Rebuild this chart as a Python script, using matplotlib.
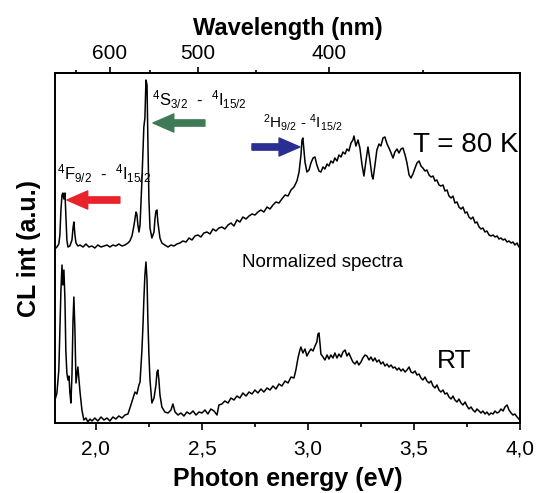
import numpy as np
import matplotlib
matplotlib.use("Agg")
import matplotlib.pyplot as plt
from matplotlib.ticker import FixedLocator, FuncFormatter

plt.rcParams['font.family'] = ['Liberation Sans', 'DejaVu Sans']
plt.rcParams['mathtext.default'] = 'regular'

# --- data (photon energy in eV, intensity in a.u.) ---
e_80k = [1.807, 1.816, 1.825, 1.830, 1.835, 1.840, 1.844, 1.849, 1.854, 1.858,
         1.863, 1.868, 1.877, 1.887, 1.892, 1.896, 1.901, 1.906, 1.915, 1.925,
         1.939, 1.953, 1.967, 1.981, 1.995, 2.009, 2.024, 2.038, 2.052, 2.066,
         2.080, 2.094, 2.108, 2.123, 2.137, 2.151, 2.160, 2.170, 2.179, 2.189,
         2.193, 2.198, 2.203, 2.208, 2.212, 2.217, 2.222, 2.226, 2.231, 2.236,
         2.241, 2.245, 2.250, 2.255, 2.264, 2.274, 2.278, 2.283, 2.288, 2.292,
         2.302, 2.311, 2.325, 2.340, 2.354, 2.368, 2.382, 2.396, 2.410, 2.425,
         2.439, 2.453, 2.467, 2.481, 2.495, 2.509, 2.524, 2.538, 2.552, 2.566,
         2.580, 2.594, 2.608, 2.623, 2.637, 2.651, 2.665, 2.679, 2.693, 2.708,
         2.722, 2.736, 2.750, 2.764, 2.778, 2.792, 2.807, 2.821, 2.835, 2.849,
         2.863, 2.877, 2.892, 2.906, 2.920, 2.934, 2.948, 2.958, 2.967, 2.972,
         2.976, 2.981, 2.986, 2.995, 3.005, 3.014, 3.024, 3.033, 3.042, 3.052,
         3.061, 3.071, 3.080, 3.090, 3.099, 3.108, 3.118, 3.127, 3.137, 3.146,
         3.156, 3.165, 3.175, 3.184, 3.193, 3.203, 3.212, 3.217, 3.226, 3.236,
         3.245, 3.255, 3.264, 3.274, 3.283, 3.292, 3.302, 3.307, 3.316, 3.325,
         3.335, 3.344, 3.354, 3.363, 3.373, 3.382, 3.392, 3.401, 3.410, 3.420,
         3.429, 3.439, 3.448, 3.458, 3.467, 3.477, 3.486, 3.495, 3.505, 3.514,
         3.524, 3.533, 3.542, 3.552, 3.561, 3.571, 3.580, 3.590, 3.599, 3.608,
         3.618, 3.627, 3.637, 3.646, 3.656, 3.665, 3.675, 3.684, 3.693, 3.703,
         3.712, 3.722, 3.731, 3.741, 3.750, 3.759, 3.769, 3.778, 3.788, 3.797,
         3.807, 3.816, 3.825, 3.835, 3.844, 3.854, 3.863, 3.873, 3.882, 3.892,
         3.901, 3.910, 3.920, 3.929, 3.939, 3.948, 3.958, 3.967, 3.976, 3.986,
         3.995, 4.000]
i_80k = [1.74, 1.76, 1.79, 1.88, 2.13, 2.28, 2.30, 2.24, 2.30, 2.08,
         1.83, 1.76, 1.77, 1.83, 1.95, 2.01, 1.88, 1.80, 1.77, 1.78,
         1.76, 1.79, 1.76, 1.77, 1.75, 1.78, 1.76, 1.77, 1.78, 1.76,
         1.78, 1.77, 1.79, 1.77, 1.78, 1.80, 1.82, 1.87, 1.97, 2.11,
         2.09, 1.98, 1.91, 1.98, 2.18, 2.43, 2.73, 2.96, 3.05, 3.43,
         3.38, 2.83, 2.23, 1.95, 1.85, 1.91, 2.03, 2.12, 2.13, 2.01,
         1.85, 1.80, 1.78, 1.76, 1.78, 1.77, 1.79, 1.80, 1.82, 1.81,
         1.85, 1.83, 1.87, 1.88, 1.86, 1.90, 1.91, 1.89, 1.94, 1.92,
         1.95, 1.96, 1.94, 1.98, 2.00, 1.97, 2.03, 2.01, 2.06, 2.04,
         2.07, 2.09, 2.08, 2.11, 2.13, 2.11, 2.16, 2.14, 2.18, 2.21,
         2.20, 2.24, 2.28, 2.27, 2.33, 2.36, 2.42, 2.51, 2.68, 2.83,
         2.85, 2.73, 2.61, 2.51, 2.53, 2.60, 2.65, 2.66, 2.58, 2.52,
         2.51, 2.56, 2.54, 2.59, 2.57, 2.62, 2.60, 2.65, 2.62, 2.68,
         2.66, 2.71, 2.69, 2.74, 2.72, 2.80, 2.83, 2.87, 2.77, 2.83,
         2.75, 2.58, 2.47, 2.63, 2.76, 2.63, 2.47, 2.44, 2.58, 2.73,
         2.79, 2.77, 2.85, 2.86, 2.79, 2.75, 2.70, 2.65, 2.71, 2.74,
         2.70, 2.74, 2.75, 2.68, 2.60, 2.48, 2.45, 2.49, 2.55, 2.60,
         2.62, 2.57, 2.55, 2.52, 2.53, 2.48, 2.46, 2.47, 2.42, 2.43,
         2.38, 2.37, 2.38, 2.32, 2.33, 2.27, 2.25, 2.27, 2.20, 2.21,
         2.16, 2.14, 2.16, 2.10, 2.11, 2.06, 2.04, 2.06, 2.00, 2.01,
         1.96, 1.94, 1.95, 1.91, 1.92, 1.88, 1.87, 1.88, 1.86, 1.87,
         1.84, 1.85, 1.83, 1.84, 1.81, 1.82, 1.80, 1.81, 1.78, 1.80,
         1.76, 1.77]

e_rt = [1.807, 1.816, 1.825, 1.830, 1.835, 1.840, 1.844, 1.849, 1.854, 1.858,
        1.863, 1.868, 1.873, 1.877, 1.882, 1.887, 1.892, 1.896, 1.901, 1.906,
        1.910, 1.915, 1.920, 1.925, 1.934, 1.943, 1.953, 1.962, 1.972, 1.981,
        1.995, 2.009, 2.024, 2.038, 2.052, 2.066, 2.080, 2.094, 2.108, 2.123,
        2.137, 2.151, 2.165, 2.175, 2.184, 2.193, 2.203, 2.208, 2.217, 2.222,
        2.226, 2.231, 2.236, 2.241, 2.245, 2.250, 2.255, 2.264, 2.274, 2.283,
        2.288, 2.292, 2.297, 2.302, 2.311, 2.325, 2.340, 2.354, 2.363, 2.373,
        2.387, 2.401, 2.415, 2.429, 2.443, 2.458, 2.472, 2.486, 2.500, 2.514,
        2.528, 2.542, 2.557, 2.571, 2.580, 2.594, 2.608, 2.623, 2.637, 2.651,
        2.665, 2.679, 2.693, 2.708, 2.722, 2.736, 2.750, 2.764, 2.778, 2.792,
        2.807, 2.821, 2.835, 2.849, 2.863, 2.877, 2.892, 2.906, 2.920, 2.934,
        2.943, 2.953, 2.962, 2.967, 2.976, 2.986, 2.995, 3.005, 3.014, 3.024,
        3.033, 3.042, 3.047, 3.052, 3.057, 3.061, 3.071, 3.080, 3.090, 3.099,
        3.108, 3.118, 3.127, 3.137, 3.146, 3.156, 3.165, 3.175, 3.184, 3.193,
        3.203, 3.212, 3.222, 3.231, 3.240, 3.250, 3.259, 3.269, 3.278, 3.288,
        3.297, 3.307, 3.316, 3.325, 3.335, 3.344, 3.354, 3.363, 3.373, 3.382,
        3.392, 3.401, 3.410, 3.420, 3.429, 3.439, 3.448, 3.458, 3.467, 3.477,
        3.486, 3.495, 3.505, 3.514, 3.524, 3.533, 3.542, 3.552, 3.561, 3.571,
        3.580, 3.590, 3.599, 3.608, 3.618, 3.627, 3.637, 3.646, 3.656, 3.665,
        3.675, 3.684, 3.693, 3.703, 3.712, 3.722, 3.731, 3.741, 3.750, 3.759,
        3.769, 3.778, 3.788, 3.797, 3.807, 3.816, 3.825, 3.835, 3.844, 3.854,
        3.863, 3.873, 3.882, 3.892, 3.901, 3.910, 3.920, 3.929, 3.939, 3.948,
        3.958, 3.967, 3.976, 3.986, 3.995, 4.000]
i_rt = [0.23, 0.30, 0.53, 0.93, 1.33, 1.58, 1.38, 1.53, 1.23, 0.73,
        0.50, 0.43, 0.47, 0.31, 0.20, 0.48, 1.03, 1.26, 0.93, 0.40,
        0.47, 0.56, 0.43, 0.31, 0.13, 0.03, 0.05, 0.01, 0.04, 0.02,
        0.05, 0.02, 0.06, 0.03, 0.05, 0.02, 0.06, 0.04, 0.07, 0.05,
        0.08, 0.09, 0.18, 0.25, 0.31, 0.29, 0.38, 0.41, 0.73, 0.98,
        1.23, 1.48, 1.61, 1.43, 1.03, 0.68, 0.43, 0.20, 0.25, 0.38,
        0.51, 0.53, 0.43, 0.28, 0.16, 0.11, 0.10, 0.13, 0.19, 0.11,
        0.08, 0.10, 0.07, 0.11, 0.09, 0.12, 0.08, 0.11, 0.10, 0.13,
        0.09, 0.14, 0.12, 0.08, 0.18, 0.19, 0.22, 0.20, 0.25, 0.23,
        0.27, 0.25, 0.30, 0.27, 0.31, 0.29, 0.33, 0.30, 0.34, 0.31,
        0.35, 0.33, 0.37, 0.34, 0.39, 0.37, 0.42, 0.40, 0.46, 0.45,
        0.53, 0.65, 0.73, 0.76, 0.70, 0.74, 0.67, 0.71, 0.74, 0.72,
        0.77, 0.81, 0.89, 0.90, 0.79, 0.69, 0.66, 0.63, 0.68, 0.64,
        0.68, 0.65, 0.70, 0.65, 0.69, 0.66, 0.71, 0.73, 0.67, 0.70,
        0.65, 0.61, 0.59, 0.62, 0.58, 0.61, 0.65, 0.68, 0.67, 0.63,
        0.66, 0.62, 0.65, 0.61, 0.63, 0.59, 0.61, 0.57, 0.59, 0.56,
        0.58, 0.55, 0.56, 0.53, 0.55, 0.52, 0.54, 0.51, 0.53, 0.56,
        0.51, 0.50, 0.52, 0.48, 0.49, 0.45, 0.43, 0.46, 0.42, 0.40,
        0.42, 0.37, 0.35, 0.38, 0.33, 0.31, 0.33, 0.29, 0.30, 0.26,
        0.24, 0.27, 0.23, 0.21, 0.24, 0.20, 0.18, 0.21, 0.17, 0.14,
        0.16, 0.13, 0.11, 0.14, 0.12, 0.10, 0.12, 0.09, 0.11, 0.08,
        0.10, 0.09, 0.12, 0.10, 0.11, 0.14, 0.12, 0.16, 0.18, 0.13,
        0.10, 0.08, 0.09, 0.06, 0.04, 0.02]

energy_ticks = [2.0, 2.5, 3.0, 3.5, 4.0]
energy_minor = [2.25, 2.75, 3.25, 3.75]
wl_ticks = [600, 500, 400]
wl_minor = [650, 550, 450, 350]

HC = 1239.84  # eV*nm


def e_to_wl(e):
    e = np.asarray(e, dtype=float)
    with np.errstate(divide='ignore'):
        return np.where(e != 0, HC / np.where(e != 0, e, 1), np.inf)


fig = plt.figure(figsize=(5.37, 4.93), dpi=100)
ax = fig.add_axes([55 / 537, 1 - 423 / 493, 465 / 537, 350 / 493])

ax.plot(e_80k, i_80k, color='black', lw=1.1)
ax.plot(e_rt, i_rt, color='black', lw=1.1)

ax.set_xlim(1.807, 4.0)
ax.set_ylim(0, 3.50)
ax.set_yticks([])
ax.xaxis.set_major_locator(FixedLocator(energy_ticks))
ax.xaxis.set_minor_locator(FixedLocator(energy_minor))
ax.xaxis.set_major_formatter(FuncFormatter(lambda v, p: f'{v:.1f}'.replace('.', ',')))
ax.tick_params(axis='x', which='major', direction='out', length=5, width=1.2,
               labelsize=15, pad=7)
ax.tick_params(axis='x', which='minor', direction='out', length=3, width=1.2)
for sp in ax.spines.values():
    sp.set_linewidth(1.4)
ax.set_xlabel('Photon energy (eV)', fontsize=18, fontweight='bold', labelpad=6)
ax.set_ylabel('CL int (a.u.)', fontsize=18, fontweight='bold', labelpad=10)

top = ax.secondary_xaxis('top', functions=(e_to_wl, e_to_wl))
top.xaxis.set_major_locator(FixedLocator(wl_ticks))
top.xaxis.set_minor_locator(FixedLocator(wl_minor))
top.tick_params(axis='x', which='major', direction='out', length=4, width=1.2,
                labelsize=15, pad=3)
top.tick_params(axis='x', which='minor', direction='out', length=2.5, width=1.2)
top.spines['top'].set_linewidth(1.4)
top.set_xlabel('Wavelength (nm)', fontsize=17, fontweight='bold', labelpad=7)

# labels
ax.text(3.495, 2.78, 'T = 80 K', fontsize=20, va='center', ha='left')
ax.text(3.608, 0.62, 'RT', fontsize=19, va='center', ha='left')
ax.text(2.689, 1.61, 'Normalized spectra', fontsize=13.5, va='center', ha='left')

ax.text(1.816, 2.43, r'$^4$F$_{9/2}$  -  $^4$I$_{15/2}$', fontsize=12, va='baseline')
ax.text(2.264, 3.17, r'$^4$S$_{3/2}$  -  $^4$I$_{15/2}$', fontsize=12, va='baseline')
ax.text(2.788, 2.95, r'$^2$H$_{9/2}$ - $^4$I$_{15/2}$', fontsize=11, va='baseline')

arrow_style = 'simple,head_length=1.5,head_width=1.3,tail_width=0.45'
ax.annotate('', xy=(1.863, 2.23), xytext=(2.113, 2.23),
            arrowprops=dict(arrowstyle=arrow_style, color='#e8222a', mutation_scale=10,
                            shrinkA=0, shrinkB=0))
ax.annotate('', xy=(2.269, 3.00), xytext=(2.514, 3.00),
            arrowprops=dict(arrowstyle=arrow_style, color='#3f7a56', mutation_scale=10,
                            shrinkA=0, shrinkB=0))
ax.annotate('', xy=(2.962, 2.76), xytext=(2.736, 2.76),
            arrowprops=dict(arrowstyle=arrow_style, color='#2a2d92', mutation_scale=10,
                            shrinkA=0, shrinkB=0))

fig.savefig('out.png', dpi=100)
